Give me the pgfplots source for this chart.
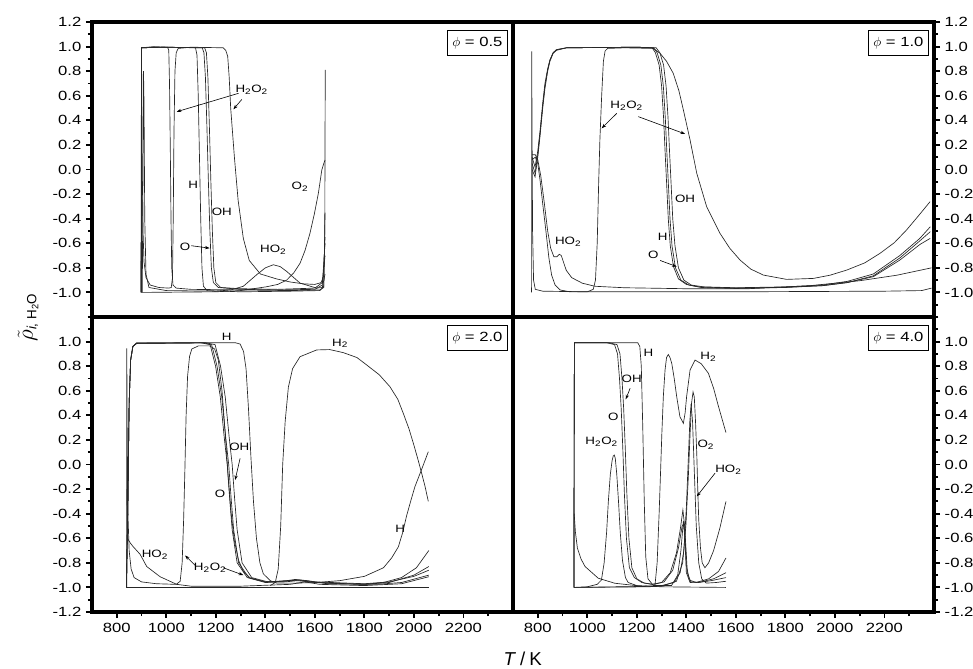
\documentclass[border=0pt]{standalone}
\usepackage{fontspec}
\setmainfont{Liberation Sans}[FakeStretch=1.25]
\newfontfamily\plainsf{Liberation Sans}
\usepackage{pgfplots}
\pgfplotsset{compat=1.18}
\usetikzlibrary{arrows.meta}

\pgfplotsset{
 panel/.style={
  width=315.75pt, height=221.25pt, scale only axis,
  xmin=700, xmax=2400, ymin=-1.2, ymax=1.2,
  tick align=outside,
  major tick length=4.5pt, minor tick length=3pt,
  every tick/.style={black, line width=1.4pt},
  tick label style={font=\fontsize{10}{12}\selectfont},
  /pgf/number format/assume math mode=true,
  yticklabel style={/pgf/number format/.cd, fixed, fixed zerofill, precision=1},
  xticklabel style={/pgf/number format/.cd, 1000 sep={}},
  every axis plot post/.append style={line width=0.5pt, black!85, solid, mark=none},
 },
 toprow/.style={xtick=\empty, minor xtick={},
  ytick={-1.0,-0.8,-0.6,-0.4,-0.2,0,0.2,0.4,0.6,0.8,1.0,1.2},
  minor ytick={-1.2,-1.1,-0.9,-0.7,-0.5,-0.3,-0.1,0.1,0.3,0.5,0.7,0.9,1.1}},
 botrow/.style={xtick={800,1000,1200,1400,1600,1800,2000,2200},
  minor xtick={900,1100,1300,1500,1700,1900,2100,2300}, xtick pos=bottom,
  ytick={-1.2,-1.0,-0.8,-0.6,-0.4,-0.2,0,0.2,0.4,0.6,0.8,1.0},
  minor ytick={-1.1,-0.9,-0.7,-0.5,-0.3,-0.1,0.1,0.3,0.5,0.7,0.9,1.1,1.2}},
 leftcol/.style={ytick pos=left},
 rightcol/.style={ytick pos=right, yticklabel pos=right},
}
\tikzset{
 phibox/.style={draw, line width=0.8pt, anchor=north east, inner xsep=3.5pt, inner ysep=5pt,
  xshift=-4pt, yshift=-6pt, font=\fontsize{10}{12}\selectfont, fill=white},
 lab/.style={font=\fontsize{8}{9}\selectfont, inner sep=1pt},
 arr/.style={-{Stealth[length=3.5pt,width=2.5pt]}, line width=0.45pt},
}

\begin{document}
\begin{tikzpicture}
\path[use as bounding box] (-69pt,-42pt) rectangle (660.75pt,459pt);

% ---------------- phi = 0.5 ----------------
\begin{axis}[panel, toprow, leftcol, name=tl, at={(0pt,221.25pt)}, anchor=south west]
\addplot coordinates {(898,-1.0) (899,0.3) (900,0.99) (950,1.0) (1005,0.995) (1010,0.97) (1013,0.7) (1016,0.2) (1019,-0.4) (1022,-0.8) (1027,-0.94) (1040,-0.965) (1100,-0.975) (1300,-0.98) (1500,-0.985) (1620,-0.98) (1636,-0.96) (1640,-0.5) (1641,0.3) (1642,0.81)};
\addplot coordinates {(899,-1.0) (900,0.99) (901,0.6) (903,0.0) (906,-0.5) (910,-0.75) (918,-0.88) (935,-0.94) (970,-0.96) (1010,-0.965) (1020,-0.96) (1025,-0.88) (1028,-0.4) (1031,0.3) (1035,0.8) (1040,0.95) (1048,0.985) (1100,0.995) (1230,0.99) (1240,0.97) (1248,0.92) (1254,0.75) (1260,0.5) (1275,0.1) (1290,-0.25) (1311,-0.56) (1335,-0.74) (1380,-0.85) (1445,-0.89) (1500,-0.915) (1553,-0.93) (1600,-0.935) (1625,-0.92) (1635,-0.87) (1641,-0.55)};
\addplot coordinates {(903,-1.0) (906,0.0) (908,0.8) (910,0.55) (913,-0.4) (918,-0.85) (930,-0.96) (1000,-0.985) (1200,-0.99) (1260,-0.98) (1311,-0.95) (1365,-0.856) (1400,-0.80) (1432,-0.775) (1460,-0.79) (1486,-0.829) (1540,-0.924) (1607,-0.965) (1630,-0.96) (1641,-0.85)};
\addplot coordinates {(899,-1.0) (900,0.99) (1000,0.995) (1118,0.99) (1124,0.93) (1129,0.6) (1134,0.1) (1139,-0.4) (1144,-0.8) (1150,-0.95) (1165,-0.985) (1300,-0.995) (1500,-0.99) (1620,-0.985) (1636,-0.95) (1641,-0.35)};
\addplot coordinates {(899,-1.0) (900,0.99) (1000,0.995) (1145,0.99) (1152,0.95) (1158,0.75) (1164,0.35) (1170,-0.1) (1176,-0.5) (1182,-0.8) (1190,-0.92) (1210,-0.96) (1300,-0.975) (1450,-0.98) (1600,-0.975) (1630,-0.94) (1641,-0.6)};
\addplot coordinates {(899,-1.0) (900,0.99) (1000,0.995) (1155,0.99) (1162,0.95) (1168,0.75) (1174,0.35) (1180,-0.1) (1186,-0.5) (1192,-0.8) (1200,-0.92) (1220,-0.96) (1300,-0.97) (1450,-0.975) (1600,-0.965) (1630,-0.92) (1641,-0.7)};
\addplot coordinates {(900,-1.0) (1200,-0.995) (1300,-0.985) (1405,-0.954) (1450,-0.935) (1486,-0.90) (1515,-0.84) (1540,-0.763) (1560,-0.66) (1580,-0.52) (1598,-0.36) (1614,-0.194) (1628,-0.004) (1636,0.05) (1641,0.077)};
\node[phibox] at (rel axis cs:1,1) {$\phi$ = 0.5};
\node[lab] at (axis cs:1345,0.647) {H\textsubscript{2}O\textsubscript{2}};
\draw[arr] (axis cs:1292,0.62) -- (axis cs:1042,0.47);
\draw[arr] (axis cs:1305,0.57) -- (axis cs:1271,0.49);
\node[lab] at (axis cs:1109,-0.126) {H};
\node[lab] at (axis cs:1224,-0.343) {OH};
\node[lab] at (axis cs:1076,-0.628) {O};
\draw[arr] (axis cs:1101,-0.62) -- (axis cs:1175,-0.64);
\node[lab] at (axis cs:1432,-0.655) {HO\textsubscript{2}};
\node[lab] at (axis cs:1540,-0.14) {O\textsubscript{2}};
\end{axis}

% ---------------- phi = 1.0 ----------------
\begin{axis}[panel, toprow, rightcol, name=tr, at={(315.75pt,221.25pt)}, anchor=south west]
\addplot coordinates {(775,-1.0) (775.5,0.96) (777,0.3) (779,-0.5) (783,-0.9) (790,-0.975) (820,-0.99) (1000,-0.995) (1600,-0.995) (2200,-0.99) (2350,-0.985) (2390,-0.965)};
\addplot coordinates {(777,0.08) (790,0.1) (800,0.05) (810,-0.1) (820,-0.28) (830,-0.45) (845,-0.72) (856,-0.86) (870,-0.94) (890,-0.98) (930,-0.995) (1000,-0.995) (1024,-0.975) (1033,-0.9) (1040,-0.6) (1046,-0.1) (1051,0.25) (1058,0.6) (1065,0.88) (1072,0.965) (1082,0.985) (1150,0.99) (1267,0.985) (1294,0.945) (1320,0.88) (1347,0.783) (1370,0.64) (1388,0.484) (1415,0.24) (1442,-0.031) (1482,-0.303) (1536,-0.52) (1575,-0.64) (1617,-0.737) (1660,-0.81) (1711,-0.859) (1805,-0.894) (1913,-0.886) (1980,-0.86) (2048,-0.818) (2120,-0.76) (2182,-0.682) (2240,-0.595) (2290,-0.49) (2340,-0.37) (2384,-0.262)};
\addplot coordinates {(777,0.12) (790,0.12) (800,0.08) (812,-0.05) (825,-0.25) (840,-0.5) (852,-0.64) (865,-0.71) (877,-0.71) (887,-0.69) (895,-0.70) (905,-0.76) (915,-0.82) (937,-0.88) (980,-0.925) (1031,-0.95) (1150,-0.962) (1400,-0.97) (1650,-0.97) (1900,-0.945) (2100,-0.905) (2250,-0.86) (2390,-0.80)};
\addplot coordinates {(777,0.05) (789,-0.03) (800,0.12) (809,0.29) (820,0.52) (829,0.68) (840,0.81) (849,0.89) (862,0.95) (876,0.975) (916,0.99) (1200,0.995) (1262,0.99) (1275,0.95) (1290,0.85) (1300,0.68) (1308,0.42) (1314,0.15) (1320,-0.1) (1327,-0.4) (1335,-0.62) (1348,-0.79) (1368,-0.89) (1400,-0.935) (1450,-0.955) (1600,-0.965) (1800,-0.958) (1950,-0.945) (2050,-0.92) (2155,-0.872) (2262,-0.737) (2343,-0.61) (2385,-0.56)};
\addplot coordinates {(777,0.0) (789,-0.06) (800,0.1) (809,0.27) (820,0.5) (829,0.66) (840,0.8) (849,0.88) (862,0.945) (876,0.97) (916,0.99) (1200,0.995) (1268,0.99) (1282,0.95) (1297,0.85) (1307,0.68) (1315,0.42) (1321,0.15) (1327,-0.1) (1334,-0.4) (1342,-0.62) (1356,-0.8) (1378,-0.9) (1410,-0.94) (1460,-0.96) (1600,-0.968) (1800,-0.96) (1950,-0.945) (2050,-0.92) (2155,-0.865) (2262,-0.72) (2343,-0.58) (2385,-0.506)};
\addplot coordinates {(777,0.1) (789,0.02) (800,0.15) (809,0.31) (820,0.54) (829,0.7) (840,0.82) (849,0.89) (862,0.95) (876,0.975) (916,0.99) (1200,0.995) (1278,0.99) (1293,0.95) (1308,0.85) (1318,0.68) (1326,0.42) (1332,0.15) (1338,-0.1) (1345,-0.4) (1354,-0.62) (1368,-0.8) (1390,-0.9) (1420,-0.94) (1470,-0.955) (1600,-0.962) (1800,-0.955) (1950,-0.94) (2050,-0.91) (2155,-0.85) (2262,-0.70) (2343,-0.56) (2385,-0.466)};
\node[phibox] at (rel axis cs:1,1) {$\phi$ = 1.0};
\node[lab] at (axis cs:1159,0.517) {H\textsubscript{2}O\textsubscript{2}};
\draw[arr] (axis cs:1119,0.457) -- (axis cs:1058,0.335);
\draw[arr] (axis cs:1206,0.43) -- (axis cs:1395,0.289);
\node[lab] at (axis cs:1395,-0.24) {OH};
\node[lab] at (axis cs:1304,-0.547) {H};
\node[lab] at (axis cs:1267,-0.696) {O};
\draw[arr] (axis cs:1294,-0.74) -- (axis cs:1361,-0.79);
\node[lab] at (axis cs:923,-0.588) {HO\textsubscript{2}};
\end{axis}

% ---------------- phi = 2.0 ----------------
\begin{axis}[panel, botrow, leftcol, name=bl, at={(0pt,0pt)}, anchor=south west]
\addplot coordinates {(838,-1.0) (2060,-1.0)};
\addplot coordinates {(840,-1.0) (840.5,0.945) (842,0.3) (845,-0.4) (850,-0.7) (858,-0.85) (870,-0.92) (900,-0.955) (960,-0.97) (1040,-0.975) (1056,-0.95) (1064,-0.8) (1070,-0.45) (1075,-0.05) (1080,0.4) (1086,0.72) (1094,0.88) (1103,0.94) (1130,0.965) (1175,0.965) (1195,0.94) (1210,0.85) (1225,0.6) (1238,0.25) (1250,-0.1) (1262,-0.4) (1275,-0.62) (1292,-0.78) (1311,-0.87) (1340,-0.925) (1400,-0.955) (1480,-0.95) (1530,-0.94) (1580,-0.955) (1700,-0.97) (1850,-0.975) (1950,-0.96) (2060,-0.9)};
\addplot coordinates {(841,-0.2) (843,-0.6) (855,-0.64) (867,-0.67) (894,-0.73) (921,-0.83) (975,-0.913) (1042,-0.975) (1100,-0.99) (1300,-0.99) (1500,-0.975) (1560,-0.955) (1620,-0.975) (1800,-0.985) (1950,-0.97) (2060,-0.913)};
\addplot coordinates {(839,-1.0) (845,-0.3) (850,0.5) (856,0.85) (865,0.96) (880,0.985) (1150,0.99) (1183,0.975) (1205,0.8) (1224,0.55) (1240,0.22) (1252,0.0) (1262,-0.28) (1272,-0.53) (1292,-0.8) (1333,-0.92) (1400,-0.955) (1470,-0.95) (1520,-0.935) (1570,-0.945) (1650,-0.97) (1800,-0.975) (1877,-0.96) (1950,-0.92) (2010,-0.84) (2060,-0.70)};
\addplot coordinates {(839,-1.0) (845,-0.3) (850,0.5) (856,0.85) (865,0.96) (880,0.985) (1140,0.99) (1177,0.975) (1199,0.8) (1218,0.55) (1234,0.22) (1246,0.0) (1256,-0.28) (1266,-0.53) (1286,-0.8) (1327,-0.92) (1400,-0.96) (1480,-0.955) (1530,-0.945) (1600,-0.96) (1800,-0.975) (1900,-0.96) (2000,-0.9) (2060,-0.83)};
\addplot coordinates {(839,-1.0) (845,-0.3) (850,0.5) (856,0.85) (865,0.96) (880,0.985) (1160,0.99) (1197,0.975) (1219,0.8) (1238,0.55) (1254,0.22) (1266,0.0) (1276,-0.28) (1286,-0.53) (1306,-0.8) (1345,-0.92) (1410,-0.955) (1480,-0.945) (1540,-0.94) (1600,-0.955) (1800,-0.97) (1900,-0.955) (2000,-0.91) (2060,-0.86)};
\addplot coordinates {(839,-1.0) (845,-0.3) (850,0.5) (856,0.85) (865,0.96) (880,0.99) (1280,0.99) (1298,0.98) (1312,0.92) (1322,0.78) (1332,0.45) (1342,0.05) (1352,-0.3) (1364,-0.6) (1378,-0.8) (1392,-0.89) (1420,-0.945) (1446,-0.965) (1520,-0.965) (1607,-0.96) (1700,-0.945) (1800,-0.91) (1877,-0.84) (1910,-0.76) (1937,-0.67) (1955,-0.55) (1970,-0.42) (1988,-0.29) (2004,-0.18) (2031,-0.04) (2058,0.104)};
\addplot coordinates {(1420,-0.985) (1440,-0.96) (1452,-0.85) (1462,-0.5) (1470,0.0) (1480,0.35) (1493,0.63) (1510,0.78) (1540,0.877) (1607,0.932) (1660,0.935) (1715,0.91) (1770,0.87) (1809,0.81) (1860,0.73) (1903,0.633) (1935,0.53) (1957,0.416) (1980,0.29) (1998,0.17) (2015,0.05) (2031,-0.07) (2045,-0.18) (2058,-0.30)};
\node[phibox] at (rel axis cs:1,1) {$\phi$ = 2.0};
\node[lab] at (axis cs:1244,1.04) {H};
\node[lab] at (axis cs:1702,0.986) {H\textsubscript{2}};
\node[lab] at (axis cs:1295,0.145) {OH};
\draw[arr] (axis cs:1298,0.05) -- (axis cs:1278,-0.126);
\node[lab] at (axis cs:1217,-0.24) {O};
\node[lab] at (axis cs:1944,-0.527) {H};
\node[lab] at (axis cs:954,-0.737) {HO\textsubscript{2}};
\node[lab] at (axis cs:1177,-0.837) {H\textsubscript{2}O\textsubscript{2}};
\draw[arr] (axis cs:1116,-0.82) -- (axis cs:1076,-0.74);
\draw[arr] (axis cs:1230,-0.84) -- (axis cs:1311,-0.9);
\end{axis}

% ---------------- phi = 4.0 ----------------
\begin{axis}[panel, botrow, rightcol, name=br, at={(315.75pt,0pt)}, anchor=south west]
\addplot coordinates {(946,-1.0) (947,0.3) (948,0.99) (1204,0.99) (1212,0.96) (1218,0.8) (1224,0.3) (1230,-0.3) (1236,-0.75) (1245,-0.93) (1267,-0.985) (1340,-0.985) (1365,-0.9) (1378,-0.7) (1388,-0.46) (1394,-0.6) (1400,-0.88) (1415,-0.96) (1460,-0.955) (1510,-0.93) (1560,-0.88)};
\addplot coordinates {(946,-1.0) (947,0.3) (948,0.99) (1080,0.99) (1110,0.975) (1122,0.9) (1130,0.7) (1137,0.45) (1143,0.15) (1150,-0.25) (1158,-0.6) (1170,-0.84) (1190,-0.92) (1220,-0.96) (1260,-0.975) (1300,-0.96) (1335,-0.88) (1360,-0.72) (1376,-0.52) (1386,-0.37) (1393,-0.5) (1400,-0.82) (1412,-0.94) (1440,-0.96) (1490,-0.93) (1530,-0.87) (1560,-0.76)};
\addplot coordinates {(946,-1.0) (947,0.3) (948,0.99) (1090,0.99) (1120,0.975) (1132,0.9) (1140,0.7) (1147,0.45) (1153,0.15) (1160,-0.25) (1168,-0.6) (1180,-0.84) (1200,-0.93) (1230,-0.965) (1270,-0.975) (1310,-0.955) (1345,-0.86) (1368,-0.68) (1383,-0.5) (1390,-0.48) (1396,-0.6) (1404,-0.88) (1418,-0.955) (1450,-0.96) (1500,-0.945) (1560,-0.92)};
\addplot coordinates {(947,-0.40) (952,-0.55) (960,-0.68) (975,-0.77) (991,-0.83) (1044,-0.925) (1111,-0.966) (1218,-0.99) (1300,-0.985) (1350,-0.96) (1375,-0.88) (1390,-0.7) (1400,-0.35) (1408,0.05) (1414,0.35) (1419,0.49) (1425,0.35) (1432,-0.05) (1440,-0.5) (1450,-0.8) (1462,-0.93) (1480,-0.965) (1520,-0.96) (1560,-0.95)};
\addplot coordinates {(948,-1.0) (1300,-0.99) (1360,-0.95) (1385,-0.8) (1398,-0.5) (1408,-0.1) (1415,0.25) (1421,0.5) (1427,0.59) (1432,0.55) (1437,0.35) (1442,0.09) (1446,-0.2) (1450,-0.45) (1457,-0.68) (1464,-0.8) (1475,-0.84) (1490,-0.80) (1510,-0.7) (1535,-0.52) (1560,-0.30)};
\addplot coordinates {(946,-1.0) (1000,-0.995) (1040,-0.975) (1057,-0.94) (1068,-0.8) (1078,-0.55) (1085,-0.3) (1093,-0.08) (1100,0.03) (1105,0.07) (1109,0.077) (1113,0.05) (1119,-0.08) (1126,-0.3) (1133,-0.55) (1142,-0.78) (1154,-0.92) (1165,-0.96) (1200,-0.985) (1300,-0.995) (1560,-1.0)};
\addplot coordinates {(946,-1.0) (1250,-0.995) (1273,-0.99) (1282,-0.8) (1290,-0.4) (1296,-0.05) (1301,0.25) (1307,0.552) (1314,0.77) (1320,0.87) (1327,0.895) (1334,0.87) (1341,0.823) (1351,0.7) (1361,0.552) (1374,0.389) (1388,0.335) (1395,0.42) (1401,0.552) (1415,0.769) (1435,0.85) (1460,0.82) (1489,0.742) (1510,0.62) (1530,0.47) (1557,0.28) (1560,0.26)};
\node[phibox] at (rel axis cs:1,1) {$\phi$ = 4.0};
\node[lab] at (axis cs:1247,0.905) {H};
\node[lab] at (axis cs:1489,0.877) {H\textsubscript{2}};
\node[lab] at (axis cs:1179,0.70) {OH};
\draw[arr] (axis cs:1173,0.62) -- (axis cs:1155,0.53);
\node[lab] at (axis cs:1105,0.39) {O};
\node[lab] at (axis cs:1058,0.185) {H\textsubscript{2}O\textsubscript{2}};
\node[lab] at (axis cs:1479,0.158) {O\textsubscript{2}};
\node[lab] at (axis cs:1570,-0.045) {HO\textsubscript{2}};
\draw[arr] (axis cs:1516,-0.07) -- (axis cs:1442,-0.26);
\end{axis}

\foreach \a in {tl,tr,bl,br}{\draw[line width=2.4pt] (\a.south west) rectangle (\a.north east);}
\node[rotate=90] at (-48pt,221pt) {\fontsize{16}{18}\selectfont $\tilde{\rho}_{\mbox{\plainsf\fontsize{10}{11}\selectfont\itshape i\upshape, H\textsubscript{2}O}}$};
\node at (323pt,-35pt) {\plainsf\fontsize{14}{16}\selectfont \textit{T}\kern3pt/\kern3pt K};
\end{tikzpicture}
\end{document}
